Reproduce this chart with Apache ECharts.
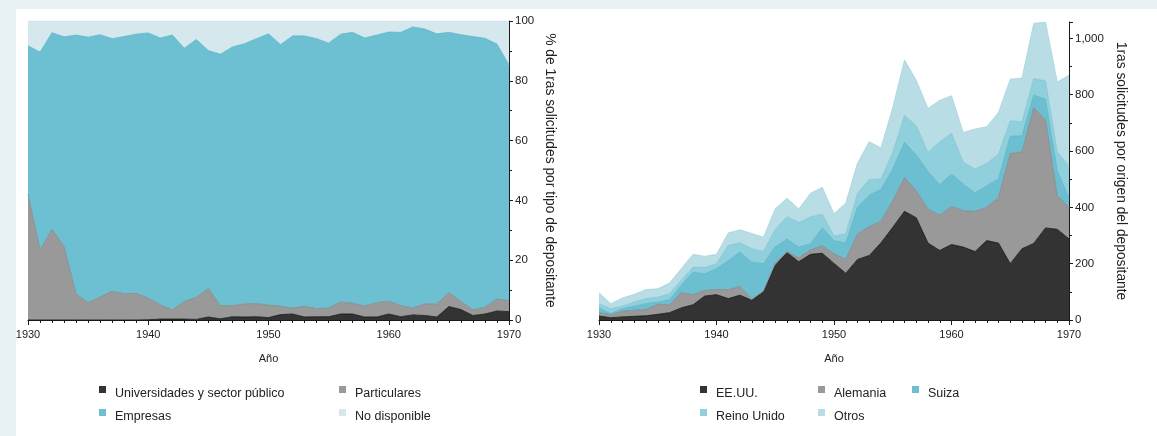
<!DOCTYPE html>
<html>
<head>
<meta charset="utf-8">
<script src="https://cdn.jsdelivr.net/npm/echarts@6/dist/echarts.min.js"></script>
<style>
html,body{margin:0;padding:0;background:#e8f1f3;width:1157px;height:436px;overflow:hidden;}
#panel{position:absolute;left:16px;top:9px;width:1141px;height:427px;background:#ffffff;}
#chart{position:absolute;left:0;top:0;width:1157px;height:436px;}
</style>
</head>
<body>
<div id="panel"></div>
<div id="chart"></div>
<script>
// ---- Data ----
const years = [1930,1931,1932,1933,1934,1935,1936,1937,1938,1939,1940,1941,1942,1943,1944,1945,1946,1947,1948,1949,1950,1951,1952,1953,1954,1955,1956,1957,1958,1959,1960,1961,1962,1963,1964,1965,1966,1967,1968,1969,1970];

// Left chart: % of first filings by applicant type
const universidades = [0,0,0,0,0,0,0,0,0,0,0.1,0.3,0.3,0.3,0.2,1.0,0.4,1.1,1.0,1.1,0.8,1.8,2.0,1.0,1.1,1.1,2.0,2.0,1.0,1.0,2.0,1.1,1.7,1.5,1.0,4.5,3.5,1.5,2.0,3.0,2.8];
const particulares = [42,23.4,30.3,24.6,8.7,5.8,7.7,9.6,8.8,8.9,7.2,4.8,3.1,5.9,7.4,9.5,4.4,3.7,4.4,4.4,4.2,2.8,2.0,3.6,2.7,2.9,4.0,3.6,3.7,4.8,4.3,3.7,2.3,3.9,4.4,4.6,2.8,1.9,2.3,4.0,3.7];
const empresas = [49.7,66.2,65.8,70.1,86.6,88.8,87.7,84.5,86.0,86.7,88.7,89.2,91.9,84.7,86.2,79.6,84.1,86.5,87.0,88.6,90.7,87.5,91.0,90.4,90.3,88.6,89.6,90.6,89.6,89.5,90.0,91.4,94.0,91.9,90.3,87.1,89.1,91.4,89.9,85.3,78.8];
const noDisponible = [8.3,10.4,3.9,5.3,4.7,5.4,4.6,5.9,5.2,4.4,4.0,5.7,4.7,9.1,6.2,9.9,11.1,8.7,7.6,5.9,4.3,7.9,5.0,5.0,5.9,7.4,4.4,3.8,5.7,4.7,3.7,3.8,2.0,2.7,4.3,3.8,4.6,5.2,5.8,7.7,14.7];

// Right chart: first filings by applicant origin
const eeuu = [14,8,11,13,15,20,26,43,54,85,90,76,88,70,100,194,239,207,233,237,201,166,215,229,274,329,386,363,273,247,268,259,243,282,273,200,253,272,327,322,288];
const alemania = [12,11,20,22,22,36,28,54,36,20,18,32,31,4,3,8,4,14,16,26,34,50,91,103,77,95,120,96,121,126,135,129,143,118,163,391,344,482,383,120,112];
const suiza = [17,4,9,14,21,8,18,26,80,59,74,103,122,131,97,58,44,38,22,64,47,57,94,111,113,112,125,127,133,108,115,95,65,77,65,61,57,44,74,88,32];
const reinoUnido = [15,17,9,15,18,17,21,18,18,22,18,54,33,48,43,62,80,87,95,49,16,33,50,56,37,59,96,103,68,152,145,77,85,79,88,55,50,59,65,67,113];
const otros = [39,18,29,27,32,30,38,41,45,40,33,44,46,54,51,73,65,48,84,95,79,109,107,134,110,159,196,162,156,147,133,106,142,130,148,148,155,196,209,248,324];

const xTicks = [1930,1940,1950,1960,1970];
const leftYTicks = [0,20,40,60,80,100];
const rightYTicks = [0,200,400,600,800,1000];

// ---- Chart ----
const FONT = '"Liberation Sans Narrow","Arial Narrow","Liberation Sans",Arial,sans-serif';
const chart = echarts.init(document.getElementById('chart'), null, {renderer:'canvas'});

function areaSeries(name, vals, fill, line, xi, yi, stack){
  return {
    name: name, type:'line', xAxisIndex:xi, yAxisIndex:yi, stack:stack,
    data: vals, symbol:'none', showSymbol:false, smooth:false,
    lineStyle:{color:line, width:0.8},
    areaStyle:{color:fill, opacity:1},
    itemStyle:{color:fill},
    emphasis:{disabled:true},
    animation:false
  };
}

// hidden category axis that carries the data
function dataXAxis(gi){
  return {
    type:'category', gridIndex:gi, data:years, boundaryGap:false, show:false
  };
}
// visible value axis for ticks and labels
function tickXAxis(gi){
  return {
    type:'value', gridIndex:gi, min:1930, max:1970, interval:10, position:'bottom',
    name:'Año', nameLocation:'middle', nameGap:33,
    nameTextStyle:{fontFamily:FONT, fontSize:11, color:'#222'},
    axisLine:{show:true, onZero:false, lineStyle:{color:'#1a1a1a', width:1}},
    axisTick:{show:true, length:5, lineStyle:{color:'#1a1a1a'}},
    minorTick:{show:true, splitNumber:10, length:3, lineStyle:{color:'#1a1a1a'}},
    splitLine:{show:false},
    axisLabel:{fontFamily:FONT, fontSize:11, color:'#222', margin:9,
      formatter: v => xTicks.indexOf(v) >= 0 ? String(v) : ''}
  };
}

function yAxis(gi, max, interval, ticks, name, gap){
  return {
    type:'value', gridIndex:gi, position:'right', min:0, max:max, interval:interval,
    name:name, nameLocation:'middle', nameRotate:-90, nameGap:gap,
    nameTextStyle:{fontFamily:FONT, fontSize:13.8, color:'#222'},
    axisLine:{show:true, onZero:false, lineStyle:{color:'#1a1a1a', width:1}},
    axisTick:{show:true, length:4, lineStyle:{color:'#1a1a1a'}},
    minorTick:{show:true, splitNumber:2, length:3, lineStyle:{color:'#1a1a1a'}},
    splitLine:{show:false},
    axisLabel:{fontFamily:FONT, fontSize:11.5, color:'#222', margin:6, showMaxLabel: max % interval === 0,
      formatter: v => ticks.indexOf(v) >= 0 ? v.toLocaleString('en-US') : ''}
  };
}

const ICON = 'path://M0,0H7V7H0Z M0,15H11';
function leg(name, left, top){
  return {
    data:[name], left:left, top:top, icon:ICON, itemWidth:11, itemHeight:15, itemGap:0,
    padding:0,
    itemStyle:{borderWidth:0},
    textStyle:{fontFamily:FONT, fontSize:12.5, color:'#222'}
  };
}

const option = {
  animation:false,
  backgroundColor:'transparent',
  grid:[
    {left:28, top:21, width:481, height:299},
    {left:599, top:22, width:470, height:298}
  ],
  xAxis:[dataXAxis(0), dataXAxis(1), tickXAxis(0), tickXAxis(1)],
  yAxis:[
    yAxis(0, 100, 20, leftYTicks, '% de 1ras solicitudes por tipo de depositante', 34),
    yAxis(1, 1058, 200, rightYTicks, '1ras solicitudes por origen del depositante', 45)
  ],
  legend:[
    leg('Universidades y sector público', 99, 386),
    leg('Particulares', 339, 386),
    leg('Empresas', 99, 409),
    leg('No disponible', 339, 409),
    leg('EE.UU.', 700, 386),
    leg('Alemania', 818, 386),
    leg('Suiza', 912, 386),
    leg('Reino Unido', 700, 409),
    leg('Otros', 818, 409)
  ],
  series:[
    areaSeries('Universidades y sector público', universidades, '#333333', '#111111', 0, 0, 'L'),
    areaSeries('Particulares', particulares, '#999999', '#858585', 0, 0, 'L'),
    areaSeries('Empresas', empresas, '#6dc0d2', '#58b3c7', 0, 0, 'L'),
    areaSeries('No disponible', noDisponible, '#d5e8ee', '#c6e0e7', 0, 0, 'L'),
    areaSeries('EE.UU.', eeuu, '#333333', '#0d0d0d', 1, 1, 'R'),
    areaSeries('Alemania', alemania, '#999999', '#858585', 1, 1, 'R'),
    areaSeries('Suiza', suiza, '#6cbfd1', '#58b3c7', 1, 1, 'R'),
    areaSeries('Reino Unido', reinoUnido, '#90cfdc', '#7ec5d4', 1, 1, 'R'),
    areaSeries('Otros', otros, '#b8dde5', '#a7d4de', 1, 1, 'R')
  ]
};
chart.setOption(option);
</script>
</body>
</html>
